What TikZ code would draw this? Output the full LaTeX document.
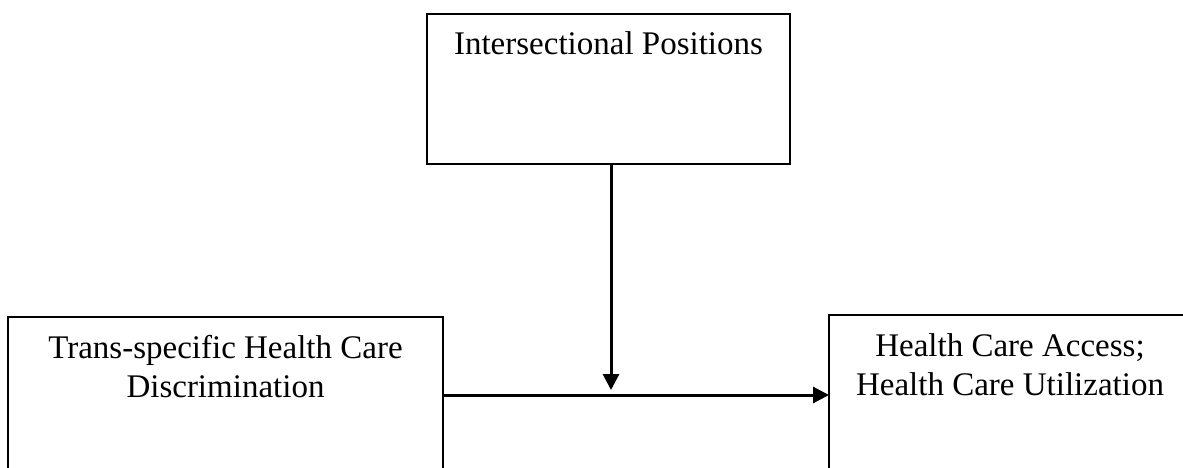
\documentclass[tikz,border=0pt]{standalone}
\usepackage{fontspec}
\setmainfont{Liberation Serif}
\usetikzlibrary{arrows.meta,calc}
\begin{document}
\begin{tikzpicture}[x=1pt,y=-1pt,
  boxnode/.style={draw, line width=2pt, inner sep=0pt, outer sep=0pt, anchor=north west},
  boxtext/.style={anchor=base, inner sep=0pt, align=center,
    font=\fontsize{33}{39}\selectfont},
  arr/.style={line width=3pt, -{Triangle[length=16pt,width=16pt]}}]
\useasboundingbox (0,0) rectangle (1183,468);
\clip (0,0) rectangle (1183,468);
\fill[white] (0,0) rectangle (1183,468);
\node[boxnode, minimum width=363pt, minimum height=150pt] (top) at (427,14) {};
\node[boxnode, minimum width=435pt, minimum height=200pt] (left) at (8,317) {};
\node[boxnode, minimum width=362pt, minimum height=200pt] (right) at (829,315) {};
\node[boxtext] (toptext) at ($(top.north)+(0,41)$) {Intersectional Positions};
\node[boxtext] (lefttext) at ($(left.north)+(0,80)$) {Trans-specific Health Care\\Discrimination};
\node[boxtext] (righttext) at ($(right.north)+(0,80)$) {Health Care Access;\\Health Care Utilization};
\coordinate (hy) at (0,395);
\coordinate (vtip) at (611,390);
\draw[arr] (left.east |- hy) -- (right.west |- hy);
\draw[arr] (top.south -| vtip) -- (vtip);
\end{tikzpicture}
\end{document}
